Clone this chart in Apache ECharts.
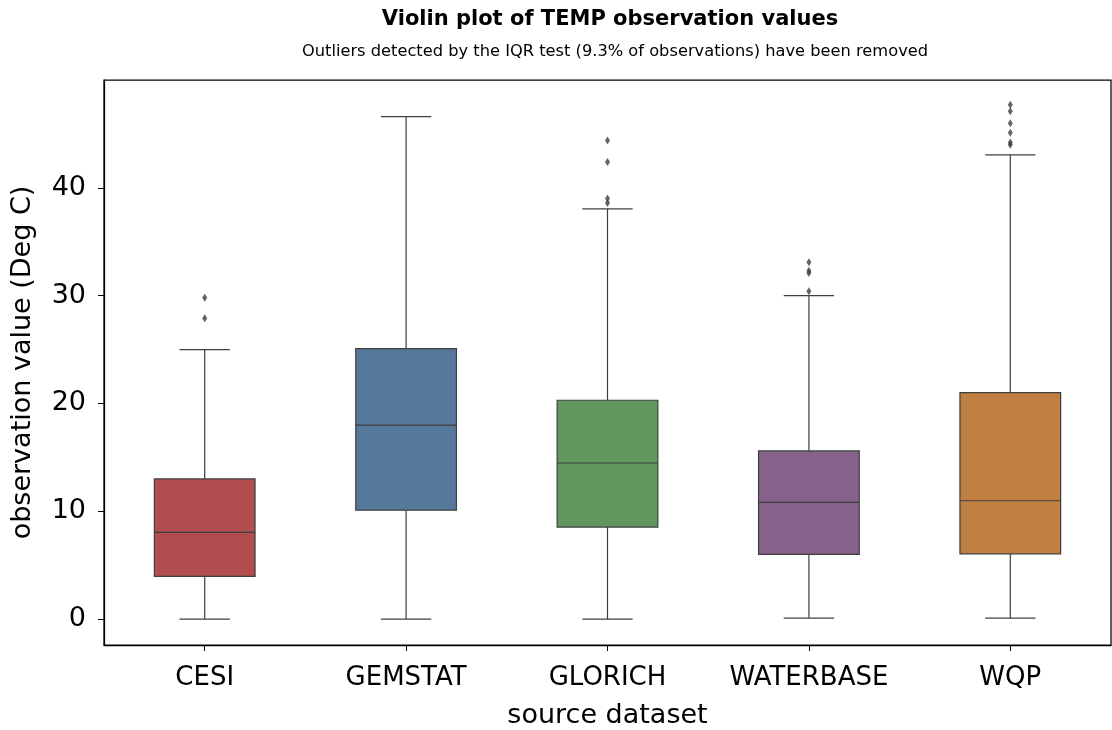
<!DOCTYPE html>
<html>
<head>
<meta charset="utf-8">
<script src="https://cdn.jsdelivr.net/npm/echarts@6/dist/echarts.min.js"></script>
<style>
html,body{margin:0;padding:0;background:#fff;}
#chart{width:1112px;height:730px;}
</style>
</head>
<body>
<div id="chart"></div>
<script>
var categories = ['CESI', 'GEMSTAT', 'GLORICH', 'WATERBASE', 'WQP'];
var whiskerLow = [0.0, 0.0, 0.0, 0.1, 0.1];
var q1 = [3.96, 10.1, 8.54, 6.0, 6.06];
var median = [8.05, 18.0, 14.48, 10.83, 10.98];
var q3 = [13.0, 25.09, 20.3, 15.6, 21.0];
var whiskerHigh = [25.0, 46.6, 38.05, 30.0, 43.06];
var outliersCESI = [27.9, 29.8];
var outliersGEMSTAT = [];
var outliersGLORICH = [38.6, 39.0, 42.4, 44.4];
var outliersWATERBASE = [30.4, 32.1, 32.3, 33.1];
var outliersWQP = [44.0, 44.2, 45.1, 46.0, 47.1, 47.7];
var yTicks = [0, 10, 20, 30, 40];
var colors = ['#b14d4e', '#56799b', '#61975f', '#86628a', '#bf7f40'];

var allOutliers = [outliersCESI, outliersGEMSTAT, outliersGLORICH, outliersWATERBASE, outliersWQP];
var boxData = categories.map(function (c, i) {
  return [i, whiskerLow[i], q1[i], median[i], q3[i], whiskerHigh[i]];
});
var outlierData = [];
allOutliers.forEach(function (arr, i) {
  arr.forEach(function (v) { outlierData.push([i, v]); });
});

var edge = '#3f3f3f';
var chart = echarts.init(document.getElementById('chart'), null, {renderer: 'canvas'});
chart.setOption({
  animation: false,
  backgroundColor: '#ffffff',
  title: [{
    text: 'Violin plot of TEMP observation values',
    left: 605, top: 4, textAlign: 'center',
    textStyle: {fontFamily: 'DejaVu Sans', fontWeight: 'bold', fontSize: 21, color: '#000'}
  }, {
    text: 'Outliers detected by the IQR test (9.3% of observations) have been removed',
    left: 610, top: 39, textAlign: 'center',
    textStyle: {fontFamily: 'DejaVu Sans', fontWeight: 'normal', fontSize: 16.25, color: '#000'}
  }],
  grid: {
    left: 104, right: 1, top: 80, bottom: 85,
    containLabel: false, outerBoundsMode: 'none',
    show: true, borderColor: '#000', borderWidth: 1.25, backgroundColor: 'transparent'
  },
  xAxis: {
    type: 'category',
    data: categories,
    name: 'source dataset',
    nameLocation: 'middle',
    nameGap: 57,
    nameTextStyle: {fontFamily: 'DejaVu Sans', fontSize: 27, color: '#000'},
    axisLine: {show: true, onZero: false, lineStyle: {color: '#000', width: 1.25}},
    axisTick: {show: true, alignWithLabel: true, interval: 0, length: 6, lineStyle: {color: '#000', width: 1}},
    axisLabel: {interval: 0, margin: 20, fontFamily: 'DejaVu Sans', fontSize: 26, color: '#000'},
    splitLine: {show: false}
  },
  yAxis: {
    type: 'value',
    min: -2.4, max: 50,
    name: 'observation value (Deg C)',
    nameLocation: 'middle',
    nameGap: 68,
    nameTextStyle: {fontFamily: 'DejaVu Sans', fontSize: 27, color: '#000'},
    axisLine: {show: true, lineStyle: {color: '#000', width: 1.25}},
    axisTick: {show: true, length: 6, customValues: yTicks, lineStyle: {color: '#000', width: 1}},
    axisLabel: {margin: 18, fontFamily: 'DejaVu Sans', fontSize: 27, color: '#000', customValues: yTicks},
    splitLine: {show: false}
  },
  series: [{
    type: 'custom',
    data: boxData,
    encode: {x: 0, y: [1, 2, 3, 4, 5]},
    renderItem: function (params, api) {
      var idx = api.value(0);
      var cw = api.size([1, 0])[0];
      var bw = cw * 0.5;
      var capw = cw * 0.25;
      var pLow = api.coord([idx, api.value(1)]);
      var pQ1 = api.coord([idx, api.value(2)]);
      var pMed = api.coord([idx, api.value(3)]);
      var pQ3 = api.coord([idx, api.value(4)]);
      var pHigh = api.coord([idx, api.value(5)]);
      var x = pLow[0];
      var ls = {stroke: edge, lineWidth: 1.2};
      return {
        type: 'group',
        children: [
          {type: 'line', shape: {x1: x, y1: pQ1[1], x2: x, y2: pLow[1]}, style: ls},
          {type: 'line', shape: {x1: x, y1: pQ3[1], x2: x, y2: pHigh[1]}, style: ls},
          {type: 'line', shape: {x1: x - capw / 2, y1: pLow[1], x2: x + capw / 2, y2: pLow[1]}, style: ls},
          {type: 'line', shape: {x1: x - capw / 2, y1: pHigh[1], x2: x + capw / 2, y2: pHigh[1]}, style: ls},
          {type: 'rect', shape: {x: x - bw / 2, y: pQ3[1], width: bw, height: pQ1[1] - pQ3[1]},
            style: {fill: colors[params.dataIndex], stroke: edge, lineWidth: 1.2}},
          {type: 'line', shape: {x1: x - bw / 2, y1: pMed[1], x2: x + bw / 2, y2: pMed[1]}, style: ls}
        ]
      };
    }
  }, {
    type: 'scatter',
    data: outlierData,
    symbol: 'diamond',
    symbolSize: [5, 8],
    itemStyle: {color: edge}
  }]
});
</script>
</body>
</html>
